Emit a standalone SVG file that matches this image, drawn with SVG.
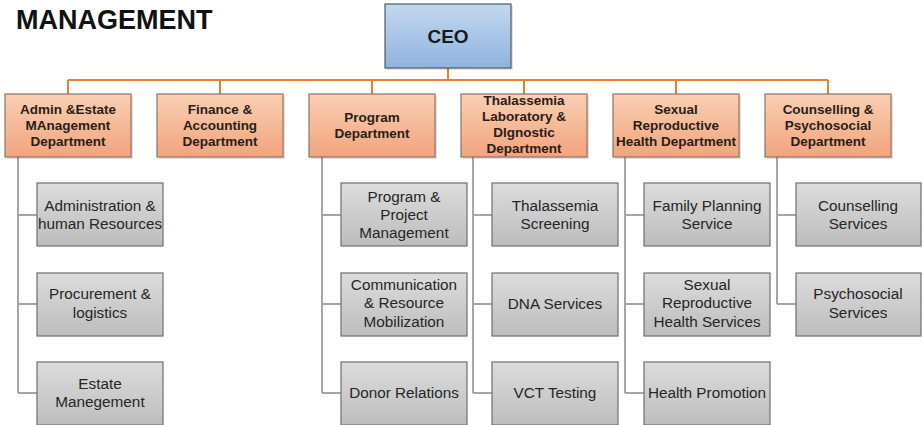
<svg xmlns="http://www.w3.org/2000/svg" width="922" height="425" viewBox="0 0 922 425">
<defs>
<linearGradient id="gBlue" x1="0" y1="0" x2="0" y2="1"><stop offset="0" stop-color="#c3d8ef"/><stop offset="1" stop-color="#8fb3de"/></linearGradient>
<linearGradient id="gOrange" x1="0" y1="0" x2="0" y2="1"><stop offset="0" stop-color="#f9cfb4"/><stop offset="1" stop-color="#f2a47c"/></linearGradient>
<linearGradient id="gGray" x1="0" y1="0" x2="0" y2="1"><stop offset="0" stop-color="#dcdcdc"/><stop offset="1" stop-color="#bdbdbd"/></linearGradient>
<style>
.ceo{fill:url(#gBlue);stroke:#4d5b6b;stroke-width:1.2}
.dept{fill:url(#gOrange);stroke:#8a7366;stroke-width:1.2}
.svc{fill:url(#gGray);stroke:#6e6e6e;stroke-width:1.2}
.sh{fill:#000;opacity:0.12}
.o{stroke:#ed7d31;stroke-width:2;fill:none}
.g{stroke:#a6a6a6;stroke-width:2;fill:none}
.dt{font-family:"Liberation Sans",Arial,sans-serif;font-weight:bold;font-size:13.5px;fill:#2a1d17;text-anchor:middle}
.ct{font-family:"Liberation Sans",Arial,sans-serif;font-weight:bold;font-size:19px;fill:#1a1a1a;text-anchor:middle}
.st{font-family:"Liberation Sans",Arial,sans-serif;font-size:15.3px;fill:#262626;text-anchor:middle}
.title{font-family:"Liberation Sans",Arial,sans-serif;font-weight:bold;font-size:27px;fill:#111}
</style>
</defs>
<rect width="922" height="425" fill="#fff"/>
<text class="title" x="16" y="29">MANAGEMENT</text>

<g id="connectors">
<path class="o" d="M448 68V80M68 80H828M68 80V94M220 80V94M372 80V94M524 80V94M676 80V94M828 80V94"/>
<path class="g" d="M18 157V393M18 215H37M18 304H37M18 393H37"/>
<path class="g" d="M322 157V393M322 215H341M322 304H341M322 393H341"/>
<path class="g" d="M473 157V393M473 215H492M473 304H492M473 393H492"/>
<path class="g" d="M625 157V393M625 215H644M625 304H644M625 393H644"/>
<path class="g" d="M777 157V304M777 215H796M777 304H796"/>
</g>

<g id="ceo"><rect class="sh" x="387" y="6" width="126" height="64"/><rect class="ceo" x="385" y="4" width="126" height="64"/><text class="ct" x="448" y="43">CEO</text></g>

<g id="d1"><rect class="sh" x="7" y="96" width="126" height="63"/><rect class="dept" x="5" y="94" width="126" height="63"/><text class="dt" x="68" y="114">Admin &amp;Estate</text><text class="dt" x="68" y="130">MAnagement</text><text class="dt" x="68" y="146">Department</text></g>
<g id="d2"><rect class="sh" x="159" y="96" width="126" height="63"/><rect class="dept" x="157" y="94" width="126" height="63"/><text class="dt" x="220" y="114">Finance &amp;</text><text class="dt" x="220" y="130">Accounting</text><text class="dt" x="220" y="146">Department</text></g>
<g id="d3"><rect class="sh" x="311" y="96" width="126" height="63"/><rect class="dept" x="309" y="94" width="126" height="63"/><text class="dt" x="372" y="122">Program</text><text class="dt" x="372" y="138">Department</text></g>
<g id="d4"><rect class="sh" x="463" y="96" width="126" height="63"/><rect class="dept" x="461" y="94" width="126" height="63"/><text class="dt" x="524" y="105">Thalassemia</text><text class="dt" x="524" y="121">Laboratory &amp;</text><text class="dt" x="524" y="137">DIgnostic</text><text class="dt" x="524" y="153">Department</text></g>
<g id="d5"><rect class="sh" x="615" y="96" width="126" height="63"/><rect class="dept" x="613" y="94" width="126" height="63"/><text class="dt" x="676" y="114">Sexual</text><text class="dt" x="676" y="130">Reproductive</text><text class="dt" x="676" y="146">Health Department</text></g>
<g id="d6"><rect class="sh" x="767" y="96" width="126" height="63"/><rect class="dept" x="765" y="94" width="126" height="63"/><text class="dt" x="828" y="114">Counselling &amp;</text><text class="dt" x="828" y="130">Psychosocial</text><text class="dt" x="828" y="146">Department</text></g>

<g id="s11"><rect class="svc" x="37" y="183" width="126" height="63"/><text class="st" x="100" y="211">Administration &amp;</text><text class="st" x="100" y="229">human Resources</text></g>
<g id="s12"><rect class="svc" x="37" y="273" width="126" height="63"/><text class="st" x="100" y="299">Procurement &amp;</text><text class="st" x="100" y="318">logistics</text></g>
<g id="s13"><rect class="svc" x="37" y="362" width="126" height="63"/><text class="st" x="100" y="389">Estate</text><text class="st" x="100" y="407">Manegement</text></g>

<g id="s31"><rect class="svc" x="341" y="183" width="126" height="63"/><text class="st" x="404" y="202">Program &amp;</text><text class="st" x="404" y="220">Project</text><text class="st" x="404" y="238">Management</text></g>
<g id="s32"><rect class="svc" x="341" y="273" width="126" height="63"/><text class="st" x="404" y="290">Communication</text><text class="st" x="404" y="308">&amp; Resource</text><text class="st" x="404" y="327">Mobilization</text></g>
<g id="s33"><rect class="svc" x="341" y="362" width="126" height="63"/><text class="st" x="404" y="398">Donor Relations</text></g>

<g id="s41"><rect class="svc" x="492" y="183" width="126" height="63"/><text class="st" x="555" y="211">Thalassemia</text><text class="st" x="555" y="229">Screening</text></g>
<g id="s42"><rect class="svc" x="492" y="273" width="126" height="63"/><text class="st" x="555" y="309">DNA Services</text></g>
<g id="s43"><rect class="svc" x="492" y="362" width="126" height="63"/><text class="st" x="555" y="398">VCT Testing</text></g>

<g id="s51"><rect class="svc" x="644" y="183" width="126" height="63"/><text class="st" x="707" y="211">Family Planning</text><text class="st" x="707" y="229">Service</text></g>
<g id="s52"><rect class="svc" x="644" y="273" width="126" height="63"/><text class="st" x="707" y="290">Sexual</text><text class="st" x="707" y="308">Reproductive</text><text class="st" x="707" y="327">Health Services</text></g>
<g id="s53"><rect class="svc" x="644" y="362" width="126" height="63"/><text class="st" x="707" y="398">Health Promotion</text></g>

<g id="s61"><rect class="svc" x="796" y="183" width="125" height="63"/><text class="st" x="858" y="211">Counselling</text><text class="st" x="858" y="229">Services</text></g>
<g id="s62"><rect class="svc" x="796" y="273" width="125" height="63"/><text class="st" x="858" y="299">Psychosocial</text><text class="st" x="858" y="318">Services</text></g>
</svg>
